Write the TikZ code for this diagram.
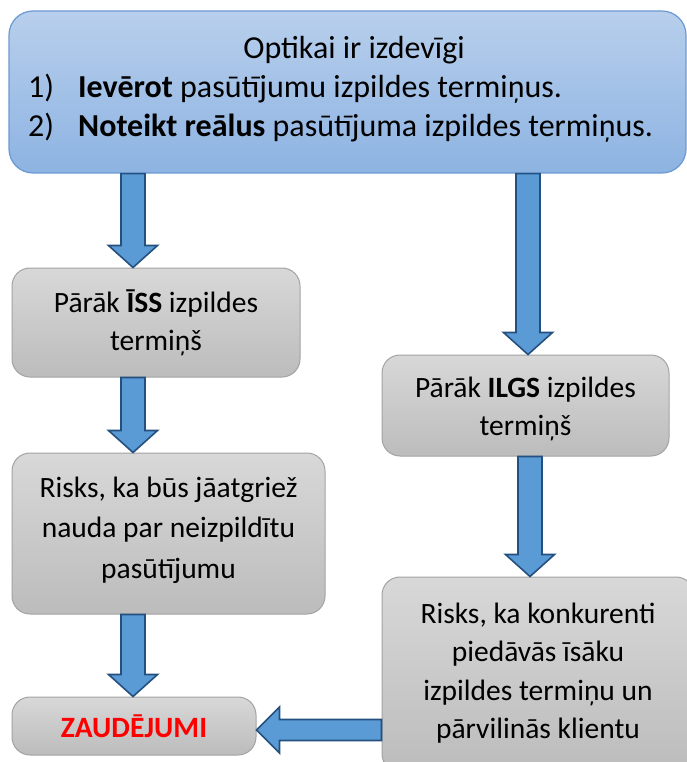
\documentclass[tikz,border=0pt]{standalone}
\usepackage{fontspec}
\setmainfont{Carlito}
\usetikzlibrary{calc}

\definecolor{topA}{HTML}{B8CFEC}
\definecolor{topB}{HTML}{8DB3E2}
\definecolor{topEdge}{HTML}{6A9AD3}
\definecolor{greyA}{HTML}{D8D8D8}
\definecolor{greyB}{HTML}{BCBCBC}
\definecolor{greyEdge}{HTML}{A3A3A3}
\definecolor{arrFill}{HTML}{5B9BD5}
\definecolor{arrEdge}{HTML}{24507F}
\definecolor{lossRed}{HTML}{FF0000}

\tikzset{
  headbox/.style={draw=topEdge, line width=1.2pt, rounded corners=24pt,
    top color=topA, bottom color=topB, inner sep=0pt},
  greybox/.style={draw=greyEdge, line width=1pt, rounded corners=18pt,
    top color=greyA, bottom color=greyB, inner sep=0pt, align=center},
  lines/.style={font=\fontsize{29.5}{#1}\selectfont},
  headtext/.style={inner sep=0pt, font=\fontsize{32}{39}\selectfont},
  blkarrow/.style={fill=arrFill, draw=arrEdge, line width=1.6pt, line join=miter},
}

% block arrow pointing down at horizontal position #1, from node #2 to node #3
\newcommand\blkdown[3]{%
  \draw[blkarrow] let \p1=({#1},0 |- #2.south), \p2=({#1},0 |- #3.north) in
    (\x1-12pt,\y1) -- (\x1+12pt,\y1) -- (\x1+12pt,\y2+22pt) -- (\x1+24.5pt,\y2+22pt)
    -- (\x1,\y2) -- (\x1-24.5pt,\y2+22pt) -- (\x1-12pt,\y2+22pt) -- cycle;
}
% block arrow pointing left at vertical position #1, from node #2 to node #3
\newcommand\blkleft[3]{%
  \draw[blkarrow] let \p1=(#2.west |- 0,{#1}), \p2=(#3.east |- 0,{#1}) in
    (\x1,\y1+10.5pt) -- (\x1,\y1-10.5pt) -- (\x2+23pt,\y1-10.5pt) -- (\x2+23pt,\y1-23pt)
    -- (\x2,\y1) -- (\x2+23pt,\y1+23pt) -- (\x2+23pt,\y1+10.5pt) -- cycle;
}

\begin{document}
\begin{tikzpicture}[x=1pt, y=-1pt]
  \clip (0,0) rectangle (687,762);
  \fill[white] (0,0) rectangle (687,762);

  % header box with the two goals
  \node[headbox, minimum width=677pt, minimum height=162pt] (top) at (347.5,92) {};
  \node[headtext, anchor=base] (title) at (354,59) {Optikai ir izdevīgi};
  \node[headtext, anchor=base west] (n1) at (28,98) {1)};
  \node[headtext, anchor=base west] (l1) at (78,98) {\textbf{Ievērot} pasūtījumu izpildes termiņus.};
  \node[headtext, anchor=base west] (n2) at (28,137) {2)};
  \node[headtext, anchor=base west] (l2) at (78,137) {\textbf{Noteikt reālus} pasūtījuma izpildes termiņus.};

  % left branch
  \node[greybox, lines=38, text height=60pt, text depth=5pt,
        minimum width=288pt, minimum height=109pt]
    (iss) at (156,322.5) {Pārāk \textbf{ĪSS} izpildes\\termiņš};
  \node[greybox, lines=40.5, text height=103pt, text depth=14pt,
        minimum width=313pt, minimum height=161pt]
    (riskL) at (168.5,533.5) {Risks, ka būs jāatgriež\\nauda par neizpildītu\\pasūtījumu};
  \node[greybox, lines=30, text height=22pt, text depth=0pt,
        minimum width=244pt, minimum height=58pt]
    (loss) at (134,726) {\textcolor{lossRed}{\textbf{ZAUDĒJUMI}}};

  % right branch
  \node[greybox, lines=38, text height=60pt, text depth=1pt,
        minimum width=287pt, minimum height=101pt]
    (ilgs) at (525.5,405.5) {Pārāk \textbf{ILGS} izpildes\\termiņš};
  \node[greybox, lines=38.5, text height=137.5pt, text depth=9.5pt,
        minimum width=312pt, minimum height=195pt]
    (riskR) at (538,674.5) {Risks, ka konkurenti\\piedāvās īsāku\\izpildes termiņu un\\pārvilinās klientu};

  % connectors
  \blkdown{133}{top}{iss}
  \blkdown{133}{iss}{riskL}
  \blkdown{133}{riskL}{loss}
  \blkdown{528}{top}{ilgs}
  \blkdown{530}{ilgs}{riskR}
  \blkleft{730}{riskR}{loss}
\end{tikzpicture}
\end{document}
